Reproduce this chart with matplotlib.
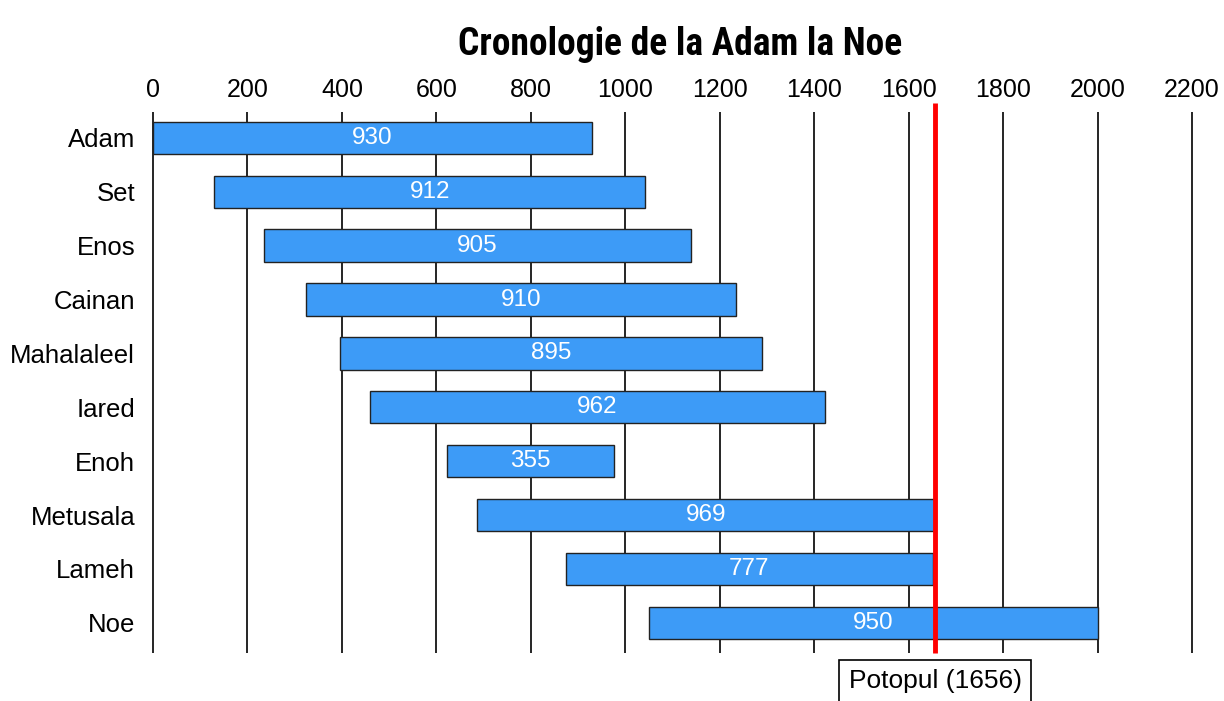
import matplotlib
matplotlib.use("Agg")
import matplotlib.pyplot as plt
import matplotlib.transforms as mtransforms
from matplotlib import font_manager

names = ["Adam", "Set", "Enos", "Cainan", "Mahalaleel", "Iared", "Enoh", "Metusala", "Lameh", "Noe"]
born = [0, 130, 235, 325, 395, 460, 622, 687, 874, 1050]
lifespan = [930, 912, 905, 910, 895, 962, 355, 969, 777, 950]
flood_year = 1656
xticks = list(range(0, 2201, 200))

plt.rcParams['font.family'] = ['Liberation Sans', 'DejaVu Sans']

# a narrow bold face for the title, if one is installed
bold_faces = {f.name for f in font_manager.fontManager.ttflist
              if (f.weight if isinstance(f.weight, int) else 400) >= 600 or f.weight == 'bold'}
title_font = 'Liberation Sans'
for cand in ['Liberation Sans Narrow', 'Arial Narrow', 'Roboto Condensed', 'PT Sans Narrow',
             'Archivo Narrow', 'Open Sans Condensed', 'Oswald']:
    if cand in bold_faces:
        title_font = cand
        break

fig = plt.figure(figsize=(12.24, 7.01), dpi=100)
ax = fig.add_axes([143.5 / 1224, 1 - 653 / 701, 1058 / 1224, 541 / 701])

ax.barh(range(len(names)), lifespan, left=born, height=0.6,
        color="#3d9bf7", edgecolor="#222222", linewidth=1.0, zorder=2)
for i, (b, l) in enumerate(zip(born, lifespan)):
    ax.text(b + l / 2, i, str(l), color="white", ha="center", va="center",
            fontsize=17.5, zorder=3)

ax.set_xlim(-20, 2220)
ax.set_ylim(9.56, -0.48)
ax.set_yticks(range(len(names)))
ax.set_yticklabels(names, fontsize=18.5)
ax.set_xticks(xticks)
ax.xaxis.tick_top()
ax.tick_params(axis='x', labelsize=18, length=0, pad=7)
ax.tick_params(axis='y', length=0, pad=6)
for s in ax.spines.values():
    s.set_visible(False)
ax.grid(axis='x', color='black', linewidth=1.2)
ax.set_axisbelow(True)

# linia potopului
ax.plot([flood_year, flood_year], [-0.65, 9.56], color='red', linewidth=3.5,
        zorder=4, clip_on=False, solid_capstyle='butt')
trans = mtransforms.blended_transform_factory(ax.transData, fig.transFigure)
ax.text(flood_year, 20 / 701, "Potopul (1656)", transform=trans, ha="center", va="center",
        fontsize=19, zorder=5,
        bbox=dict(boxstyle="square,pad=0.36", facecolor="white", edgecolor="black", linewidth=1.2))

title = fig.text(680 / 1224, 1 - 55 / 701, "Cronologie de la Adam la Noe", ha="center",
                 va="baseline", fontsize=30, fontweight="bold", family=title_font)
# fit title to the width seen in the reference (~445 px)
fig.canvas.draw()
w = title.get_window_extent().width
title.set_fontsize(min(36, 30 * 445 / w))

fig.savefig("out.png", dpi=100)
